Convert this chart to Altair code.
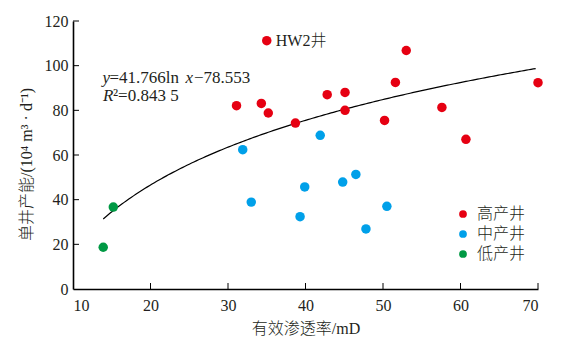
import altair as alt
import pandas as pd

# ---------------- data ----------------
high_x = [35.0, 31.1, 34.3, 35.2, 38.7, 42.8, 45.1, 45.1, 50.2, 51.6, 53.0, 57.6, 60.7, 70.0]
high_y = [111.2, 82.1, 83.1, 78.8, 74.3, 87.0, 88.0, 80.0, 75.5, 92.5, 106.8, 81.3, 67.0, 92.4]
mid_x = [31.9, 33.0, 39.3, 39.9, 41.9, 44.8, 46.5, 47.8, 50.5]
mid_y = [62.4, 38.9, 32.4, 45.7, 68.8, 47.9, 51.3, 26.9, 37.0]
low_x = [15.2, 13.9]
low_y = [36.7, 18.7]
categories = ["高产井", "中产井", "低产井"]
colors = ["#e60012", "#00a0e9", "#009944"]

# fitted curve y = a*ln(x) + b (from the chart's equation)
curve_a = 41.766
curve_b = -78.553
curve_x_range = [13.9, 69.7]

x_ticks = [10, 20, 30, 40, 50, 60, 70]
y_ticks = [0, 20, 40, 60, 80, 100, 120]

rows = []
for xs, ys, c in [(high_x, high_y, categories[0]), (mid_x, mid_y, categories[1]), (low_x, low_y, categories[2])]:
    for a, b in zip(xs, ys):
        rows.append({"k": a, "q": b, "cat": c})
df = pd.DataFrame(rows)

FONT = "'Liberation Serif', 'Noto Sans CJK SC'"
TXT = "#231f20"
W, H = 465, 268

xscale = alt.Scale(domain=[10, 70], nice=False, zero=False)
yscale = alt.Scale(domain=[0, 120], nice=False)

points = alt.Chart(df).mark_circle(size=90, opacity=1).encode(
    x=alt.X("k:Q", scale=xscale, title="有效渗透率/mD",
            axis=alt.Axis(values=x_ticks, ticks=False, grid=False, labelPadding=8,
                          titleY=39, titleBaseline="middle", titleX=W / 2)),
    y=alt.Y("q:Q", scale=yscale, title="单井产能/(10⁴ m³ · d⁻¹)",
            axis=alt.Axis(values=y_ticks, ticks=False, grid=False, labelPadding=5,
                          titleX=-47, titleY=143, titleAngle=270, titleBaseline="middle",
                          titleAlign="center")),
    color=alt.Color("cat:N", scale=alt.Scale(domain=categories, range=colors), title=None,
                    legend=alt.Legend(orient="none", legendX=382, legendY=185, padding=0,
                                      symbolSize=60, symbolType="circle", labelOffset=6,
                                      rowPadding=4, labelFontSize=16, labelFont=FONT,
                                      labelFontWeight=300,
                                      labelColor=TXT, symbolStrokeWidth=0)),
)

curve = alt.Chart(alt.sequence(curve_x_range[0], curve_x_range[1] + 0.01, 0.3, as_="k")).transform_calculate(
    q=f"{curve_a}*log(datum.k)+({curve_b})"
).mark_line(color="black", strokeWidth=1.2).encode(
    x=alt.X("k:Q", scale=xscale), y=alt.Y("q:Q", scale=yscale)
)

xt = alt.Chart(pd.DataFrame({"k": x_ticks[1:]})).mark_rule(color="black", strokeWidth=1).encode(
    x=alt.X("k:Q", scale=xscale), y=alt.value(H), y2=alt.value(H - 6))
yt = alt.Chart(pd.DataFrame({"q": y_ticks[1:]})).mark_rule(color="black", strokeWidth=1).encode(
    y=alt.Y("q:Q", scale=yscale), x=alt.value(0), x2=alt.value(6))

hw2 = alt.Chart(pd.DataFrame({"k": [high_x[0]], "q": [high_y[0]], "t": ["HW2井"]})).mark_text(
    align="left", baseline="middle", dx=9, fontSize=16, font=FONT, color=TXT, fontWeight=300
).encode(x=alt.X("k:Q", scale=xscale), y=alt.Y("q:Q", scale=yscale), text="t:N")

def piece(text, px, py, italic=False, size=17):
    return alt.Chart(pd.DataFrame({"t": [text]})).mark_text(
        align="left", baseline="middle", fontSize=size, font=FONT, color=TXT,
        fontStyle="italic" if italic else "normal"
    ).encode(x=alt.value(px), y=alt.value(py), text="t:N")

eq = (piece("y", 29.5, 56.5, True) + piece("=41.766ln", 36.5, 56.5) + piece("x", 112.5, 56.5, True)
      + piece("−78.553", 121, 56.5) + piece("R", 30, 75, True) + piece("²=0.843 5", 40, 75))

chart = alt.layer(curve, points, xt, yt, hw2, eq).properties(
    width=W, height=H,
    autosize=alt.AutoSizeParams(type="none"),
    padding={"left": 73, "top": 21, "right": 40, "bottom": 56},
).configure_view(stroke=None).configure_axis(
    domainColor="black", domainWidth=1.6, labelFont=FONT, labelFontSize=16, labelColor=TXT,
    titleFont=FONT, titleFontSize=16, titleColor=TXT, titleFontWeight=300,
)

chart.save("out.html", embed_options={"renderer": "svg", "actions": False})
